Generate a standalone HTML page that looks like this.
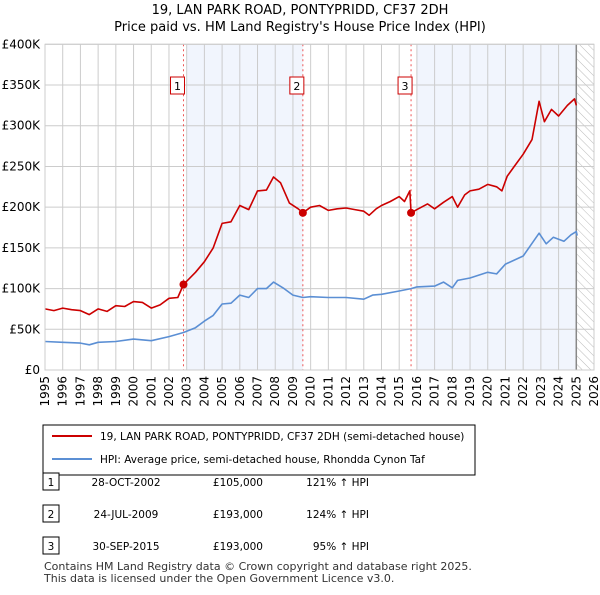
<!DOCTYPE html>
<html><head><meta charset="utf-8"><style>
body{margin:0;background:#fff;font-family:"Liberation Sans","DejaVu Sans",sans-serif;}
svg text{font-family:"DejaVu Sans","Liberation Sans",sans-serif;}
</style></head><body>
<svg id="c" width="600" height="590" xmlns="http://www.w3.org/2000/svg">
<defs><pattern id="h" width="6" height="6" patternUnits="userSpaceOnUse" patternTransform="rotate(-45)"><line x1="0" y1="0" x2="0" y2="6" stroke="#bbb" stroke-width="1"/></pattern></defs>
<text x="300" y="14" text-anchor="middle" font-size="13" fill="#000">19, LAN PARK ROAD, PONTYPRIDD, CF37 2DH</text>
<text x="300" y="31" text-anchor="middle" font-size="13" fill="#000">Price paid vs. HM Land Registry's House Price Index (HPI)</text>
<g id="plot"></g>
<rect x="43" y="425" width="432" height="50" fill="#fff" stroke="#000"/>
<line x1="52" y1="436" x2="92" y2="436" stroke="#cc0000" stroke-width="2"/>
<text x="100" y="440" font-size="10.5">19, LAN PARK ROAD, PONTYPRIDD, CF37 2DH (semi-detached house)</text>
<line x1="52" y1="459" x2="92" y2="459" stroke="#5b8fd4" stroke-width="2"/>
<text x="100" y="463" font-size="10.5">HPI: Average price, semi-detached house, Rhondda Cynon Taf</text>
<g id="tbl" font-size="10.5"></g>
<text x="44" y="570" font-size="11" fill="#333">Contains HM Land Registry data © Crown copyright and database right 2025.</text>
<text x="44" y="582" font-size="11" fill="#333">This data is licensed under the Open Government Licence v3.0.</text>
</svg>
<script>
const NS="http://www.w3.org/2000/svg";
const priceX=[1995,1995.5,1996,1996.5,1997,1997.5,1998,1998.5,1999,1999.5,2000,2000.5,2001,2001.5,2002,2002.5,2002.82,2003.5,2004,2004.5,2005,2005.5,2006,2006.5,2007,2007.5,2007.9,2008.3,2008.8,2009.3,2009.56,2010,2010.5,2011,2011.5,2012,2012.5,2013,2013.3,2013.7,2014,2014.5,2015,2015.3,2015.6,2015.67,2016,2016.6,2017,2017.5,2018,2018.3,2018.7,2019,2019.5,2020,2020.5,2020.8,2021.1,2021.5,2022,2022.5,2022.9,2023.2,2023.6,2024,2024.5,2024.9,2025.0];
const priceY=[75,73,76,74,73,68,75,72,79,78,84,83,76,80,88,89,105,120,133,150,180,182,202,197,220,221,237,230,205,198,193,200,202,196,198,199,197,195,190,198,202,207,213,207,220,193,197,204,198,206,213,200,215,220,222,228,225,220,238,250,265,283,330,305,320,312,325,333,325];
const hpiX=[1995,1996,1997,1997.5,1998,1999,2000,2001,2002,2002.82,2003.5,2004,2004.5,2005,2005.5,2006,2006.5,2007,2007.5,2007.9,2008.5,2009,2009.56,2010,2011,2012,2013,2013.5,2014,2015,2015.67,2016,2017,2017.5,2018,2018.3,2019,2020,2020.5,2021,2022,2022.9,2023.3,2023.7,2024.3,2024.7,2025,2025.05];
const hpiY=[35,34,33,31,34,35,38,36,41,46,52,60,67,81,82,92,89,100,100,108,100,92,89,90,89,89,87,92,93,97,100,102,103,108,101,110,113,120,118,130,140,168,155,163,158,166,170,165];
const saleX=[2002.82,2009.56,2015.67];
const saleY=[105,193,193];
const saleLabels=["1","2","3"];
const saleDates=["28-OCT-2002","24-JUL-2009","30-SEP-2015"];
const salePrices=["£105,000","£193,000","£193,000"];
const saleHpi=["121% ↑ HPI","124% ↑ HPI","95% ↑ HPI"];
const yTicks=[0,50,100,150,200,250,300,350,400];
const yTickLabels=["£0","£50K","£100K","£150K","£200K","£250K","£300K","£350K","£400K"];
const xTicks=[1995,1996,1997,1998,1999,2000,2001,2002,2003,2004,2005,2006,2007,2008,2009,2010,2011,2012,2013,2014,2015,2016,2017,2018,2019,2020,2021,2022,2023,2024,2025,2026];
const X0=45,X1=594,Y0=370,Y1=44.3;
const xs=v=>X0+(v-1995)/(2026-1995)*(X1-X0);
const ys=v=>Y0-v/400*(Y0-Y1);
const g=document.getElementById('plot');
function mk(t,a,p){const e=document.createElementNS(NS,t);for(const k in a)e.setAttribute(k,a[k]);(p||g).appendChild(e);return e;}
let e;
e=mk('rect',{x:xs(2003),y:Y1,width:xs(2009.56)-xs(2003),height:Y0-Y1,fill:'#eef3fc',opacity:0.8});


e=mk('rect',{x:xs(2016),y:Y1,width:xs(2025)-xs(2016),height:Y0-Y1,fill:'#eef3fc',opacity:0.8});


e=mk('rect',{x:xs(2025),y:Y1,width:xs(2026)-xs(2025),height:Y0-Y1,fill:'url(#h)'});


xTicks.forEach(t=>{
 e=mk('line',{x1:xs(t),x2:xs(t),y1:Y1,y2:Y0,stroke:'#ccc'});
 
 
 e=mk('text',{x:0,y:0,'font-size':12,'text-anchor':'end',transform:`translate(${xs(t)+4},${Y0+6}) rotate(-90)`});
 e.textContent=t;
 
 
});
yTicks.forEach((t,i)=>{
 e=mk('line',{x1:X0,x2:X1,y1:ys(t),y2:ys(t),stroke:'#ccc'});
 
 
 e=mk('text',{x:40,y:ys(t)+4,'font-size':12,'text-anchor':'end'});
 e.textContent=yTickLabels[i];
 
 
});
e=mk('line',{x1:xs(2025),x2:xs(2025),y1:Y1,y2:Y0,stroke:'#888','stroke-width':1.5});


saleX.forEach((s,i)=>{
 e=mk('line',{x1:xs(s),x2:xs(s),y1:Y1,y2:Y0,stroke:'#e55','stroke-dasharray':'2,3'});
 
 
 e=mk('rect',{x:xs(s)-13,y:77,width:14,height:17,fill:'#fff',stroke:'#cc0000'});
 
 
 e=mk('text',{x:xs(s)-6,y:90,'font-size':11,'text-anchor':'middle'});
 e.textContent=saleLabels[i];
 
 
});
function line(xa,ya,col,name){
 const d=xa.map((x,i)=>(i?'L':'M')+xs(x).toFixed(1)+','+ys(ya[i]).toFixed(1)).join('');
 const p=mk('path',{d:d,fill:'none',stroke:col,'stroke-width':1.6,'stroke-linejoin':'round'});
 
 
}
line(hpiX,hpiY,'#5b8fd4','hpi-line');
line(priceX,priceY,'#cc0000','price-line');
saleX.forEach((s,i)=>{
 e=mk('circle',{cx:xs(s),cy:ys(saleY[i]),r:4,fill:'#cc0000'});
 
 
});
e=mk('rect',{x:X0,y:Y1,width:X1-X0,height:Y0-Y1,fill:'none',stroke:'#ccc'});


const tb=document.getElementById('tbl');
const rowY=[485,517,549];
saleLabels.forEach((l,i)=>{
 const y=rowY[i];
 e=mk('rect',{x:43,y:y-12,width:16,height:17,fill:'#fff',stroke:'#000'},tb);
 
 
 e=mk('text',{x:51,y:y+1,'text-anchor':'middle'},tb);e.textContent=l;
 
 
 e=mk('text',{x:126,y:y+1,'text-anchor':'middle'},tb);e.textContent=saleDates[i];
 
 
 e=mk('text',{x:263,y:y+1,'text-anchor':'end'},tb);e.textContent=salePrices[i];
 
 
 e=mk('text',{x:369,y:y+1,'text-anchor':'end'},tb);e.textContent=saleHpi[i];
 
 
});
</script>
</body></html>
